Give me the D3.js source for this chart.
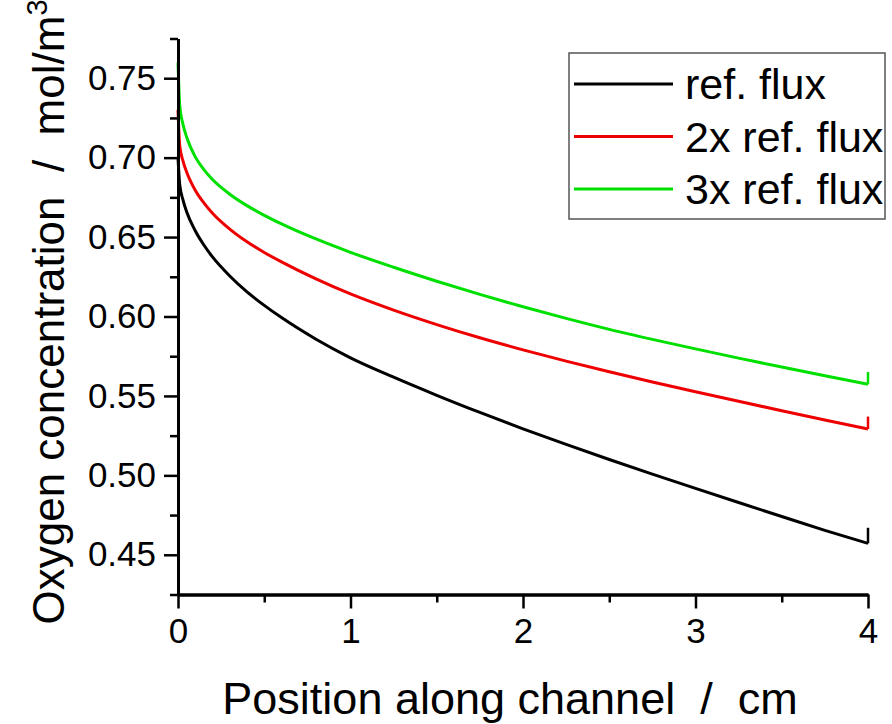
<!DOCTYPE html>
<html>
<head>
<meta charset="utf-8">
<script src="https://cdn.jsdelivr.net/npm/d3@7"></script>
<style>
  html, body { margin: 0; padding: 0; background: #fff; }
  svg { display: block; }
  text { font-family: "Liberation Sans", Arial, sans-serif; fill: #000; white-space: pre; }
</style>
</head>
<body>
<svg id="chart" width="892" height="724"></svg>
<script>
// Position along the channel (cm)
const position = [0, 0.01, 0.03, 0.05, 0.1, 0.15, 0.2, 0.3, 0.4, 0.5, 0.6, 0.8, 1.0,
  1.25, 1.5, 1.75, 2.0, 2.25, 2.5, 2.75, 3.0, 3.25, 3.5, 3.75, 4.0];

// Oxygen concentration (mol/m^3) for each flux case
const refFlux = [0.700, 0.683, 0.673, 0.666, 0.654, 0.645, 0.6375, 0.6255, 0.6155, 0.607, 0.5993, 0.5857, 0.574,
  0.5618, 0.5504, 0.5396, 0.5293, 0.5195, 0.510, 0.5008, 0.4918, 0.4829, 0.4741, 0.4654, 0.4572];
const flux2x = [0.730, 0.7075, 0.6975, 0.691, 0.6795, 0.6715, 0.665, 0.655, 0.647, 0.6403, 0.6344, 0.6237, 0.6142,
  0.604, 0.5949, 0.5866, 0.579, 0.5719, 0.5652, 0.5588, 0.5526, 0.5466, 0.5407, 0.5349, 0.5292];
const flux3x = [0.760, 0.733, 0.7205, 0.713, 0.7005, 0.6925, 0.6862, 0.677, 0.6698, 0.6637, 0.6583, 0.6488, 0.6404,
  0.631, 0.6222, 0.6139, 0.6061, 0.5988, 0.5919, 0.5856, 0.5796, 0.5738, 0.5682, 0.5627, 0.5573];
// Value at the outlet boundary (x = 4 cm), slightly above the last interior value
const outletValue = [0.467, 0.537, 0.565];

const seriesNames = ["ref. flux", "2x ref. flux", "3x ref. flux"];
const seriesColors = ["#000000", "#ee0000", "#00e000"];

const xTicks = [0, 1, 2, 3, 4];
const xMinor = [0.5, 1.5, 2.5, 3.5];
const yTicks = [0.45, 0.50, 0.55, 0.60, 0.65, 0.70, 0.75];
const yMinor = [0.425, 0.475, 0.525, 0.575, 0.625, 0.675, 0.725, 0.775];

const xTitle = "Position along channel  /  cm";
const yTitle = "Oxygen concentration  /  mol/m";

const svg = d3.select("#chart");
const x = d3.scaleLinear().domain([0, 4]).range([178, 868]);
const y = d3.scaleLinear().domain([0.425, 0.775]).range([594.5, 38.5]);

// Curves
const allSeries = [refFlux, flux2x, flux3x];
const line = d3.line().x(d => x(d[0])).y(d => y(d[1])).curve(d3.curveMonotoneX);
const spike = d3.line().x(d => x(d[0])).y(d => y(d[1]));
allSeries.forEach((vals, i) => {
  const pts = position.map((p, j) => [p, vals[j]]);
  svg.append("path").datum(pts).attr("d", line)
    .attr("fill", "none").attr("stroke", seriesColors[i]).attr("stroke-width", 3)
    .attr("stroke-linejoin", "round");
  const last = pts[pts.length - 1];
  svg.append("path").datum([last, [last[0], outletValue[i]]]).attr("d", spike)
    .attr("fill", "none").attr("stroke", seriesColors[i]).attr("stroke-width", 2.5);
});

// Axes
function styleAxis(g) {
  g.select(".domain").attr("stroke", "#000").attr("stroke-width", 3);
  g.selectAll(".tick line").attr("stroke", "#000").attr("stroke-width", 2.5);
}
const gxMinor = svg.append("g").attr("transform", `translate(0,${y(0.425)})`)
  .call(d3.axisBottom(x).tickValues(xMinor).tickSize(8).tickSizeOuter(0).tickFormat(""));
styleAxis(gxMinor);
const gx = svg.append("g").attr("transform", `translate(0,${y(0.425)})`)
  .call(d3.axisBottom(x).tickValues(xTicks).tickSize(14).tickSizeOuter(0)
    .tickPadding(10).tickFormat(d3.format("d")));
styleAxis(gx);
gx.selectAll(".tick text").attr("font-size", 35).attr("font-family", "Liberation Sans, Arial, sans-serif");

const gyMinor = svg.append("g").attr("transform", `translate(${x(0)},0)`)
  .call(d3.axisLeft(y).tickValues(yMinor).tickSize(8).tickSizeOuter(0).tickFormat(""));
styleAxis(gyMinor);
const gy = svg.append("g").attr("transform", `translate(${x(0)},0)`)
  .call(d3.axisLeft(y).tickValues(yTicks).tickSize(14).tickSizeOuter(0)
    .tickPadding(8).tickFormat(d3.format(".2f")));
styleAxis(gy);
gy.selectAll(".tick text").attr("font-size", 35).attr("font-family", "Liberation Sans, Arial, sans-serif");

// Axis titles
svg.append("text").attr("x", 510).attr("y", 714)
  .attr("text-anchor", "middle").attr("font-size", 45).text(xTitle);

const yt = svg.append("text")
  .attr("transform", `translate(64,312) rotate(-90)`)
  .attr("text-anchor", "middle").attr("font-size", 44);
yt.append("tspan").text(yTitle);
yt.append("tspan").attr("dy", -17).attr("font-size", 29).text("3");

// Legend
const legend = svg.append("g");
legend.append("rect").attr("x", 569).attr("y", 53).attr("width", 316).attr("height", 166)
  .attr("fill", "#fff").attr("stroke", "#555").attr("stroke-width", 1.5);
seriesNames.forEach((name, i) => {
  const cy = 84 + i * 52.5;
  legend.append("line").attr("x1", 574).attr("x2", 673).attr("y1", cy).attr("y2", cy)
    .attr("stroke", seriesColors[i]).attr("stroke-width", 3);
  legend.append("text").attr("x", 685).attr("y", cy + 15).attr("font-size", 43).text(name);
});
</script>
</body>
</html>
